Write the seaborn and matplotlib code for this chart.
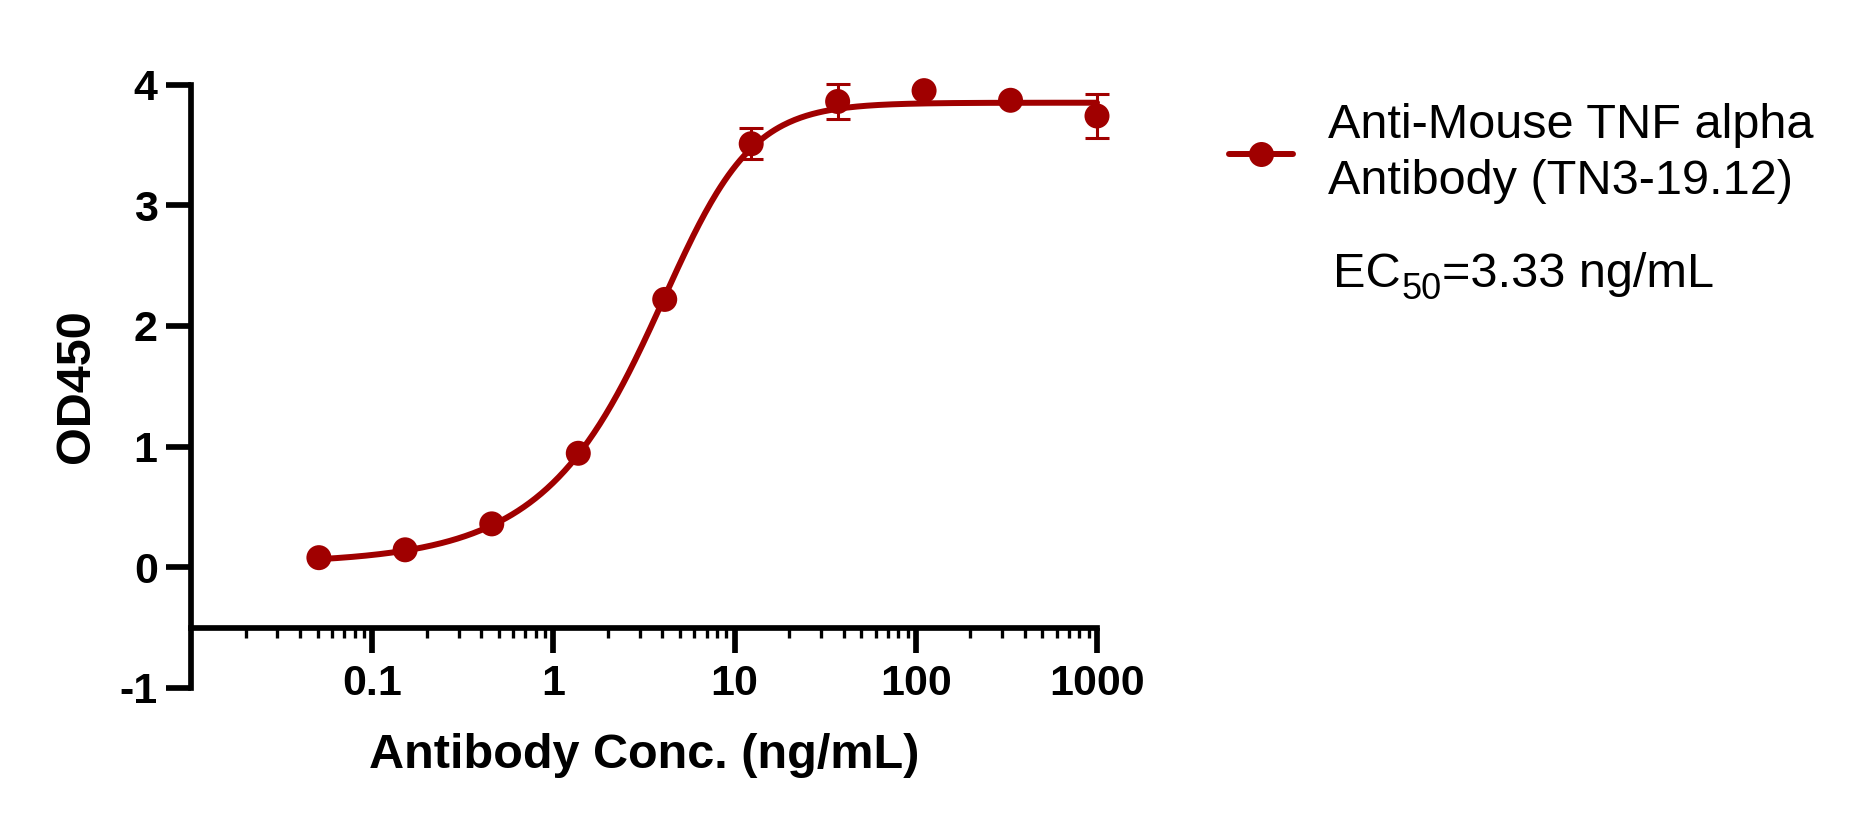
import matplotlib

matplotlib.use("Agg")

import matplotlib.pyplot as plt  # noqa: E402
import numpy as np  # noqa: E402
import seaborn as sns  # noqa: E402
from matplotlib.lines import Line2D  # noqa: E402
from matplotlib.ticker import FixedLocator, LogLocator, NullFormatter  # noqa: E402

# --- data ------------------------------------------------------------------
conc = [0.0508, 0.152, 0.457, 1.372, 4.115, 12.35, 37.04, 111.1, 333.3, 1000]
od450 = [0.08, 0.145, 0.36, 0.945, 2.22, 3.51, 3.86, 3.95, 3.87, 3.74]
# SD; bars shorter than the symbol are not drawn in the reference
od450_sd = [0, 0, 0, 0, 0, 0.13, 0.145, 0, 0, 0.18]

# asymmetric (5PL) fit: Y = bottom + (top-bottom)/(1+(xb/X)^hill)^s
fit_bottom = 0.03
fit_top = 3.85
fit_xb = 5.84
fit_hill = 1.95
fit_s = 0.5

series_label = "Anti-Mouse TNF alpha\nAntibody (TN3-19.12)"
xtick_vals = [0.1, 1, 10, 100, 1000]
xtick_labels = ["0.1", "1", "10", "100", "1000"]
ytick_vals = [-1, 0, 1, 2, 3, 4]

RED = "#A00000"

sns.set_theme(style="ticks")
plt.rcParams["font.family"] = ["Liberation Sans", "DejaVu Sans"]
plt.rcParams["axes.unicode_minus"] = False
plt.rcParams["text.color"] = "black"
plt.rcParams["axes.labelcolor"] = "black"

fig = plt.figure(figsize=(18.54, 8.22), dpi=100)
ax = fig.add_axes([0.10302, 0.16302, 0.48867, 0.73406])

# fitted curve
curve_x = np.geomspace(conc[0], conc[-1], 400)
curve_y = fit_bottom + (fit_top - fit_bottom) / (
    1 + (fit_xb / curve_x) ** fit_hill) ** fit_s
sns.lineplot(x=curve_x, y=curve_y, ax=ax, color=RED, linewidth=4.3,
             zorder=2, clip_on=False)

# error bars only where they are visible
bar_idx = [i for i, v in enumerate(od450_sd) if v > 0]
eb = ax.errorbar([conc[i] for i in bar_idx], [od450[i] for i in bar_idx],
                 yerr=[od450_sd[i] for i in bar_idx], fmt="none", ecolor=RED,
                 elinewidth=2.2, capsize=8.5, capthick=2.2, zorder=3)
for art in eb.get_children():
    art.set_clip_on(False)
sns.scatterplot(x=conc, y=od450, ax=ax, color=RED, s=324,
                edgecolor="none", linewidth=0, zorder=4, clip_on=False)

ax.set_xscale("log")
ax.set_xlim(0.01, 1000)
ax.set_ylim(-1, 4)

ax.spines["top"].set_visible(False)
ax.spines["right"].set_visible(False)
ax.spines["bottom"].set_position(("data", -0.5))
for side in ("left", "bottom"):
    ax.spines[side].set_linewidth(4.1)
    ax.spines[side].set_color("black")
    ax.spines[side].set_capstyle("projecting")

ax.xaxis.set_major_locator(FixedLocator(xtick_vals))
ax.set_xticklabels(xtick_labels)
ax.xaxis.set_minor_locator(LogLocator(base=10, subs=np.arange(2, 10)))
ax.xaxis.set_minor_formatter(NullFormatter())
ax.set_yticks(ytick_vals)
ax.set_yticklabels([str(v) for v in ytick_vals])

ax.tick_params(axis="both", which="major", length=18, width=4.1,
               color="black", labelsize=31, labelcolor="black")
ax.tick_params(axis="x", which="major", pad=8)
ax.tick_params(axis="y", which="major", pad=6)
ax.tick_params(axis="x", which="minor", length=7, width=2.4, color="black")
for lab in ax.get_xticklabels() + ax.get_yticklabels():
    lab.set_fontweight("bold")

ax.set_xlabel("Antibody Conc. (ng/mL)", fontsize=35, fontweight="bold")
ax.set_ylabel("OD450", fontsize=35, fontweight="bold")
ax.xaxis.set_label_coords(0.5, -0.075)
ax.yaxis.set_label_coords(-0.102, 0.5)
ax.grid(False)

handle = Line2D([], [], color=RED, linewidth=4.3, marker="o", markersize=18,
                markeredgewidth=0)
leg = ax.legend([handle], [series_label], loc="upper left",
                bbox_to_anchor=(1229 / 1854, 1 - 103 / 822),
                bbox_transform=fig.transFigure, frameon=False, fontsize=35,
                borderpad=0, borderaxespad=0, handlelength=1.32,
                handletextpad=0.72)
for t in leg.get_texts():
    t.set_linespacing(1.3)

# EC50 note, with a large subscript as in the reference
t_ec = fig.text(1333 / 1854, 1 - 287 / 822, "EC", fontsize=35,
                va="baseline", ha="left")
t_sub = ax.annotate("50", xy=(1, 0), xycoords=t_ec, xytext=(0.5, -1.3),
                    textcoords="offset points", fontsize=26, va="baseline",
                    ha="left", annotation_clip=False)
ax.annotate("=3.33 ng/mL", xy=(1, 0), xycoords=(t_sub, t_ec),
            xytext=(0.5, 0), textcoords="offset points", fontsize=35,
            va="bottom", ha="left", annotation_clip=False)

fig.savefig("out.png", dpi=100, facecolor="white")
